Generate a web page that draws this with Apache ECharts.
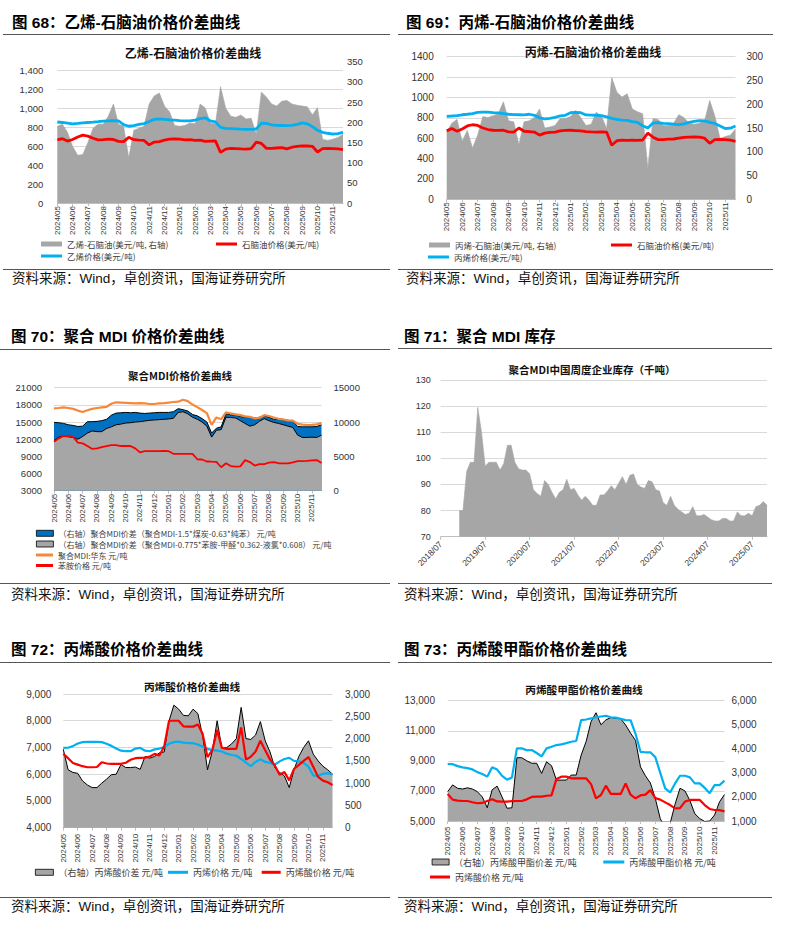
<!DOCTYPE html>
<html>
<head>
<meta charset="utf-8">
<script src="https://cdn.jsdelivr.net/npm/echarts@6/dist/echarts.min.js"></script>
<style>
html,body{margin:0;padding:0;background:#fff;}
body{width:786px;height:952px;position:relative;overflow:hidden;}
#chart{position:absolute;left:0;top:0;width:786px;height:952px;}
.t{position:absolute;white-space:nowrap;pointer-events:none;z-index:2;}
.h{font-family:"Liberation Sans","Noto Sans CJK SC",sans-serif;font-weight:bold;font-size:15.5px;line-height:20px;color:#000;}
.s{font-family:"Liberation Sans","Noto Sans CJK SC",sans-serif;font-size:13.5px;line-height:18px;color:#111;}
.it{font-family:"Noto Sans CJK SC",sans-serif;font-weight:bold;line-height:16px;text-align:center;width:260px;color:#111;}
.ln{position:absolute;height:0;border-top:1px solid #555;z-index:2;}
</style>
</head>
<body>
<div id="chart"></div>

<div class="t h" style="left:12px;top:13px">图 68：乙烯-石脑油价格价差曲线</div>
<div class="t h" style="left:406px;top:13px">图 69：丙烯-石脑油价格价差曲线</div>
<div class="t h" style="left:11px;top:327px">图 70：聚合 MDI 价格价差曲线</div>
<div class="t h" style="left:404px;top:327px">图 71：聚合 MDI 库存</div>
<div class="t h" style="left:11px;top:640px">图 72：丙烯酸价格价差曲线</div>
<div class="t h" style="left:404px;top:640px">图 73：丙烯酸甲酯价格价差曲线</div>

<div class="ln" style="left:3px;top:34px;width:387px"></div>
<div class="ln" style="left:3px;top:269px;width:387px"></div>
<div class="ln" style="left:398px;top:34px;width:375px"></div>
<div class="ln" style="left:398px;top:269px;width:375px"></div>
<div class="ln" style="left:0px;top:349px;width:390px"></div>
<div class="ln" style="left:0px;top:583px;width:390px"></div>
<div class="ln" style="left:398px;top:348px;width:374px"></div>
<div class="ln" style="left:398px;top:583px;width:374px"></div>
<div class="ln" style="left:0px;top:662px;width:390px"></div>
<div class="ln" style="left:0px;top:897px;width:390px"></div>
<div class="ln" style="left:398px;top:662px;width:374px"></div>
<div class="ln" style="left:398px;top:897px;width:374px"></div>

<div class="t s" style="left:12px;top:270px">资料来源：Wind，卓创资讯，国海证券研究所</div>
<div class="t s" style="left:406px;top:270px">资料来源：Wind，卓创资讯，国海证券研究所</div>
<div class="t s" style="left:11px;top:586px">资料来源：Wind，卓创资讯，国海证券研究所</div>
<div class="t s" style="left:404px;top:586px">资料来源：Wind，卓创资讯，国海证券研究所</div>
<div class="t s" style="left:11px;top:898px">资料来源：Wind，卓创资讯，国海证券研究所</div>
<div class="t s" style="left:404px;top:898px">资料来源：Wind，卓创资讯，国海证券研究所</div>

<div class="t it" style="left:63px;top:45px;font-size:12px">乙烯-石脑油价格价差曲线</div>
<div class="t it" style="left:463px;top:44px;font-size:12px">丙烯-石脑油价格价差曲线</div>
<div class="t it" style="left:50px;top:368px;font-size:10.5px">聚合MDI价格价差曲线</div>
<div class="t it" style="left:462px;top:362px;font-size:10.5px">聚合MDI中国周度企业库存（千吨）</div>
<div class="t it" style="left:62px;top:679px;font-size:10.7px">丙烯酸价格价差曲线</div>
<div class="t it" style="left:454px;top:682px;font-size:10.7px">丙烯酸甲酯价格价差曲线</div>

<script>
// ---------------- categories ----------------
const months = ['2024/05','2024/06','2024/07','2024/08','2024/09','2024/10','2024/11','2024/12',
  '2025/01','2025/02','2025/03','2025/04','2025/05','2025/06','2025/07','2025/08','2025/09','2025/10','2025/11'];
const days = ['01','11','21'];
const cats = [];
months.forEach(m => days.forEach(d => cats.push(m + '/' + d)));

const invYears = [2018,2019,2020,2021,2022,2023,2024,2025];
const invCats = [];
invYears.forEach(y => {
  for (let m = 1; m <= 12; m++) {
    if (y === 2018 && m < 7) continue;
    if (y === 2025 && m > 11) continue;
    invCats.push(y + '/' + (m < 10 ? '0' + m : '' + m));
  }
});

// ---------------- 图68 乙烯-石脑油 ----------------
const p68Ethylene = [857,852,845, 838,842,848, 852,855,860, 866,870,872, 868,830,812, 818,832,840,
  862,885,890, 886,880,876, 872,870,868, 878,892,902, 868,858,800, 790,788,785, 782,780,780,
  782,845,842, 826,822,820, 818,822,832, 848,838,808, 770,748,738, 730,735,748];
const p68Naphtha = [668,680,655, 672,698,718, 708,685,668, 670,675,672, 652,650,695, 670,665,662,
  615,645,650, 665,675,678, 675,668,670, 662,665,652, 655,658,535, 570,578,575, 572,570,575,
  645,630,578, 578,582,585, 572,590,600, 605,603,600, 540,575,578, 575,572,565];
const p68Spread = [190,195,175, 140,118,120, 150,185,195, 195,215,245, 195,190,112, 180,185,190,
  245,265,272, 240,226,192, 190,192,198, 196,245,235, 198,196,288, 235,215,212, 218,208,210,
  170,275,262, 245,240,252, 254,245,242, 240,238,218, 236,158,155, 158,162,170];

// ---------------- 图69 丙烯-石脑油 ----------------
const p69Propylene = [815,818,822, 830,835,842, 854,856,855, 851,848,842, 835,832,830, 828,835,825,
  800,790,795, 805,818,825, 850,852,850, 828,826,825, 822,810,795, 785,778,775, 762,755,722,
  700,750,752, 745,742,738, 733,740,755, 765,772,770, 755,745,720, 695,698,720];
const p69Naphtha = [672,695,668, 690,720,732, 725,700,685, 678,676,678, 662,660,700, 668,665,660,
  630,650,658, 660,672,676, 678,675,672, 665,662,660, 662,660,530, 575,580,578, 580,578,582,
  650,610,586, 585,590,592, 600,608,610, 612,610,600, 550,585,588, 586,580,568];
const p69Spread = [142,160,168, 122,145,108, 135,174,172, 176,180,205, 165,163,115, 163,165,172,
  190,150,152, 155,170,170, 174,187,172, 155,158,183, 175,149,256, 225,215,222, 190,184,180,
  65,170,168, 155,155,160, 178,172,160, 158,160,165, 208,175,128, 132,135,148];

// ---------------- 图70 聚合MDI ----------------
const p70Mdi = [17390,17450,17560, 17450,17300,17000, 16750,17050,17300, 17450,17560,17650,
  18200,18450,18400, 18350,18300,18250, 18300,18250,18150, 18150,18250,18300, 18400,18500,18550,
  18900,18650,18050, 17600,17100,16550, 14500,15800,15500, 16700,16500,16350, 16200,16000,15900,
  15650,15750,16200, 16050,15800,15550, 15450,15300,15250, 14700,14550,14480, 14500,14600,14850];
const p70Aniline = [11560,12150,12560, 12560,12400,11400, 11270,10810,10300, 10400,10600,10800,
  10980,10980,10810, 10810,10810,10400, 9700,9900,9900, 9900,9900,9950, 9900,9450,9450,
  9450,9450,9450, 8500,8450,8100, 8070,8050,7100, 7800,7300,7200, 7250,8350,8000,
  7400,7650,7660, 7900,8000,7800, 7780,7780,7950, 8180,8180,8200, 8300,8360,7850];
const p70SpreadCoal = [9950,9900,9800, 9600,9500,9350, 9400,10050,10050, 10100,10200,10400,
  11000,11300,11350, 11400,11350,11400, 11300,11250,11300, 11350,11400,11400, 11400,11500,11950,
  11800,11600,11100, 10900,10500,10000, 8400,9100,9300, 11200,11050,11000, 10800,10700,10650,
  10600,10700,10900, 10700,10400,10350, 10350,10250,10150, 9350,9300,9300, 9300,9350,9600];
const p70SpreadAniline = [7300,7800,7900, 7850,7750,7500, 7900,8400,8700, 8600,8600,9050,
  9300,9600,9700, 9850,9900,10000, 10050,10150,10250, 10300,10350,10400, 10450,10550,11400,
  11500,11200,10700, 10400,10000,9400, 7800,8800,8900, 10700,10650,10600, 10200,9800,9400,
  9600,10100,10500, 10200,9950,9800, 9600,9400,9200, 8100,7750,7750, 7800,7750,8100];

// ---------------- 图71 聚合MDI库存 (月度, 2018/07 起) ----------------
const p71Inventory = [null,null,null,null,null,
  80,80,95,98.5,98.5, 119.5,110,97,98.5,98.5, 98.5,95.5,98,105,105, 98.5,96,95.5,95.5,94,
  88,86.5,85.5,91.5,90, 87,84.5,87,88,92, 88,88.5,86,84,85.5, 84,82,82,86,86,
  87.5,89.5,88,90.5,93, 90,93.5,94,90,89, 88.5,91.5,91,88,87.5, 83,82,85.5,82,80.5,
  79.5,78.5,79,81.5,78, 78,78.5,77.5,76.5,76, 76,77,77,76,76, 79.5,78,78,79,78,
  81.5,82,83.5,82];

// ---------------- 图72 丙烯酸 ----------------
const p72Propylene = [6985,6990,7050, 7150,7200,7210, 7210,7210,7200, 7140,7060,6960, 6880,6860,6860,
  6960,6985,6880, 6860,6930,6960, 7020,7140,7200, 7220,7180,7160, 7160,7110,7030, 6950,6900,6880,
  6850,6770,6720, 6690,6570,6430, 6300,6460,6560, 6460,6420,6360, 6480,6570,6610, 6500,6480,6420,
  6280,5950,5950, 6010,6040,5990];
const p72Acrylic = [6760,6600,6420, 6360,6300,6260, 6260,6270,6450, 6400,6390,6390, 6390,6430,6540,
  6600,6610,6620, 6660,6760,6700, 7050,8000,8000, 8000,7790,7780, 7780,7860,7500, 6640,6900,7650,
  6980,6950,6950, 6950,7750,6550, 6650,6850,7250, 6900,6550,6330, 5980,6080,5770, 6200,6350,6500,
  6640,6280,5900, 5760,5700,5600];
const p72Spread = [1760,1300,1240, 1220,1050,960, 900,900,1000, 1090,1190,1200, 1420,1350,1350,
  1360,1310,1600, 1560,1600,1680, 1700,2400,2750, 2660,2520,2510, 2660,2560,2050, 1300,1720,2400,
  1780,1800,1880, 2000,2700,2000, 1980,2080,2380, 1950,1700,1350, 1240,1160,900, 1300,1600,1800,
  1950,1650,1500, 1380,1300,1200];

// ---------------- 图73 丙烯酸甲酯 ----------------
const p73Mma = [8790,8780,8650, 8570,8520,8430, 8250,8130,7950, 8580,8420,8000, 7750,7900,9830,
  9830,9700,9720, 9520,9300,9830, 9940,10050,10100, 10180,10270,10320, 11710,11750,11820,
  11900,11950,12000, 11900,11870,11800, 11710,11700,10800, 9600,9570,9570, 9250,8200,7170,
  6900,7500,8010, 8010,7900,7500, 7500,7200,6850, 7390,7390,7680];
const p73Acrylic = [6800,6420,6360, 6330,6330,6250, 6180,6200,6330, 6450,6300,6290, 6290,6320,6330,
  6330,6440,6600, 6620,6620,6680, 6700,7800,7950, 7950,7840,7840, 7840,7840,7450, 6510,6730,7350,
  6800,6800,6800, 7500,6750,6510, 6700,6750,7050, 6520,6420,6240, 6060,5840,5860, 6290,6400,6400,
  6400,6060,5800, 5730,5720,5640];
const p73Spread = [2220,2500,2360, 2330,2380,2330, 2220,2000,1550, 2300,2450,2000, 1530,1550,3630,
  3630,3500,3400, 3400,2980,3460, 3300,2700,2700, 2700,2910,2910, 3740,4300,5130, 5500,5000,5200,
  5300,5270,5250, 4990,4650,4350, 3250,2880,2580, 1940,1100,700, 900,1700,2360, 2250,1850,1300,
  1100,980,1000, 1250,1800,2100];

// ---------------- styling helpers ----------------
const AX = '#bfbfbf', SPL = '#d9d9d9', LBL = '#333';
const NUMF = '"Liberation Sans", Arial, sans-serif';
const CJKF = '"Noto Sans CJK SC", sans-serif';
const RED = '#ff0000', BLUE = '#00b0f0', GRAY = '#a6a6a6', DBLUE = '#0070c0', ORANGE = '#f5883a';
const isMonth = (i, v) => v.slice(8) === '01';
const isJuly = (i, v) => v.slice(5) === '07';

function xCat(gi, data, show, margin, rot, fs, intervalFn, fmt) {
  return {
    type: 'category', gridIndex: gi, data: data, boundaryGap: false, show: show,
    axisLine: { show: true, lineStyle: { color: AX, width: 1 } },
    axisTick: { show: true, interval: intervalFn, length: 3, lineStyle: { color: AX } },
    axisLabel: { show: true, interval: intervalFn, rotate: rot, margin: margin, fontSize: fs,
      color: LBL, fontFamily: NUMF, formatter: fmt },
    splitLine: { show: false }
  };
}
function yVal(gi, pos, min, max, step, split, margin, fs, fmt) {
  const ax = {
    type: 'value', gridIndex: gi, position: pos, min: min, max: max, interval: step,
    axisLine: { show: false }, axisTick: { show: false },
    splitLine: { show: split, lineStyle: { color: SPL, width: 1 } },
    axisLabel: { fontSize: fs, color: LBL, fontFamily: NUMF, margin: margin }
  };
  if (fmt) ax.axisLabel.formatter = fmt;
  return ax;
}
function area(name, xi, yi, data, color, outline, z) {
  return {
    name: name, type: 'line', xAxisIndex: xi, yAxisIndex: yi, data: data, z: z,
    symbol: 'none', showSymbol: false, silent: true, color: color, itemStyle: { color: color },
    lineStyle: { color: outline || color, width: outline ? 1 : 0.6 },
    areaStyle: { color: color, opacity: 1, origin: 'start' }
  };
}
function line(name, xi, yi, data, color, w, z) {
  return {
    name: name, type: 'line', xAxisIndex: xi, yAxisIndex: yi, data: data, z: z,
    symbol: 'none', showSymbol: false, silent: true, color: color, itemStyle: { color: color },
    lineStyle: { color: color, width: w }
  };
}
function lg(name, x, y, w, h, color, border, fs) {
  return {
    left: x, top: y - 4.5, padding: 0, itemWidth: w, itemHeight: h, itemGap: 0,
    icon: 'rect', selectedMode: false,
    data: [{ name: name, itemStyle: { color: color, borderColor: border ? '#000' : color, borderWidth: border ? 0.8 : 0 } }],
    textStyle: { fontSize: fs, color: '#404040', fontFamily: CJKF, lineHeight: 9 }
  };
}
const mFmt = v => v.slice(0, 7);
const plain = v => String(v);

// names
const N68a = '乙烯-石脑油(美元/吨, 右轴)', N68b = '石脑油价格(美元/吨)', N68c = '乙烯价格(美元/吨)';
const N69a = '丙烯-石脑油(美元/吨, 右轴)', N69c = '丙烯价格(美元/吨)';
const N70a = '（右轴）聚合MDI价差（聚合MDI-1.5*煤炭-0.63*纯苯） 元/吨';
const N70b = '（右轴）聚合MDI价差（聚合MDI-0.775*苯胺-甲醛*0.362-液氯*0.608） 元/吨';
const N70c = '聚合MDI:华东 元/吨', N70d = '苯胺价格 元/吨';
const N71 = '聚合MDI中国周度企业库存（千吨）';
const N72a = '（右轴）丙烯酸价差 元/吨', N72b = '丙烯价格 元/吨', N72c = '丙烯酸价格 元/吨';
const N73a = '（右轴）丙烯酸甲酯价差 元/吨', N73b = '丙烯酸甲酯价格 元/吨';

const option = {
  animation: false,
  backgroundColor: 'transparent',
  textStyle: { fontFamily: CJKF },
  grid: [
    { left: 57.3, top: 70.7, width: 285.7, height: 132.3 },   // 0 P68 left
    { left: 57.3, top: 61.6, width: 285.7, height: 141.4 },   // 1 P68 right
    { left: 446.7, top: 56.7, width: 288.8, height: 142.6 },  // 2 P69
    { left: 54, top: 387.7, width: 267.5, height: 103 },      // 3 P70
    { left: 440.7, top: 380, width: 326.3, height: 156.7 },   // 4 P71
    { left: 63.3, top: 694, width: 269.2, height: 133.7 },    // 5 P72
    { left: 447.7, top: 700.7, width: 276.8, height: 120.3 }  // 6 P73
  ],
  xAxis: [
    xCat(0, cats, true, 3, 90, 8, isMonth, mFmt),
    xCat(1, cats, false, 3, 90, 8, isMonth, mFmt),
    xCat(2, cats, true, 3, 90, 8, isMonth, mFmt),
    xCat(3, cats, true, 3, 90, 8, isMonth, mFmt),
    xCat(4, invCats, true, 6, 45, 8.5, isJuly, v => v),
    xCat(5, cats, true, 6, 90, 8, isMonth, mFmt),
    xCat(6, cats, true, 5.5, 90, 8, isMonth, mFmt)
  ],
  yAxis: [
    yVal(0, 'left', 0, 1400, 200, true, 14, 9.5),
    yVal(1, 'right', 0, 350, 50, false, 4, 9.5),
    yVal(2, 'left', 0, 1400, 200, true, 13, 10, plain),
    yVal(2, 'right', 0, 300, 50, false, 11, 10, plain),
    yVal(3, 'left', 3000, 21000, 3000, true, 12, 9.5, plain),
    yVal(3, 'right', 0, 15000, 5000, false, 12, 9.5, plain),
    yVal(4, 'left', 70, 130, 10, true, 10, 9, plain),
    yVal(5, 'left', 4000, 9000, 1000, true, 12, 10),
    yVal(5, 'right', 0, 3000, 500, false, 12.5, 10),
    yVal(6, 'left', 5000, 13000, 2000, true, 12.7, 10),
    yVal(6, 'right', 1000, 6000, 1000, false, 7, 10)
  ],
  legend: [
    lg(N68a, 41, 244, 21, 5, GRAY, false, 8.5),
    lg(N68b, 216, 244, 21, 3, RED, false, 8.5),
    lg(N68c, 41, 256, 21, 3, BLUE, false, 8.5),
    lg(N69a, 429, 245, 21, 5, GRAY, false, 8.5),
    lg(N68b, 611, 245, 21, 3, RED, false, 8.5),
    lg(N69c, 428, 257, 21, 3, BLUE, false, 8.5),
    lg(N70a, 36, 533.3, 17, 6, DBLUE, true, 8),
    lg(N70b, 36, 544, 17, 6, GRAY, true, 8),
    lg(N70c, 36, 555, 17, 3, ORANGE, false, 8),
    lg(N70d, 36, 565.5, 17, 3, RED, false, 8),
    lg(N72a, 35, 872.3, 18, 6, GRAY, true, 9),
    lg(N72b, 168, 872.3, 20, 3, BLUE, false, 9),
    lg(N72c, 261.7, 872.3, 19, 3, RED, false, 9),
    lg(N73a, 431.7, 862, 17, 6, GRAY, true, 9),
    lg(N73b, 603.3, 862, 21, 3, BLUE, false, 9),
    lg(N72c, 430, 877, 20, 3, RED, false, 9)
  ],
  series: [
    // 68
    area(N68a, 1, 1, p68Spread, GRAY, null, 1),
    line(N68b, 0, 0, p68Naphtha, RED, 2.8, 3),
    line(N68c, 0, 0, p68Ethylene, BLUE, 2.8, 4),
    // 69
    area(N69a, 2, 3, p69Spread, GRAY, null, 1),
    line(N68b, 2, 2, p69Naphtha, RED, 2.8, 3),
    line(N69c, 2, 2, p69Propylene, BLUE, 2.8, 4),
    // 70
    area(N70a, 3, 5, p70SpreadCoal, DBLUE, '#000', 1),
    area(N70b, 3, 5, p70SpreadAniline, GRAY, '#000', 2),
    line(N70c, 3, 4, p70Mdi, ORANGE, 2.2, 3),
    line(N70d, 3, 4, p70Aniline, RED, 1.8, 4),
    // 71
    area(N71, 4, 6, p71Inventory, GRAY, null, 1),
    // 72
    area(N72a, 5, 8, p72Spread, GRAY, '#000', 1),
    line(N72b, 5, 7, p72Propylene, BLUE, 2.2, 3),
    line(N72c, 5, 7, p72Acrylic, RED, 2.2, 4),
    // 73
    area(N73a, 6, 10, p73Spread, GRAY, '#000', 1),
    line(N73b, 6, 9, p73Mma, BLUE, 2.2, 3),
    line(N72c, 6, 9, p73Acrylic, RED, 2.2, 4)
  ]
};

const chart = echarts.init(document.getElementById('chart'), null, { renderer: 'svg' });
chart.setOption(option);
</script>
</body>
</html>
